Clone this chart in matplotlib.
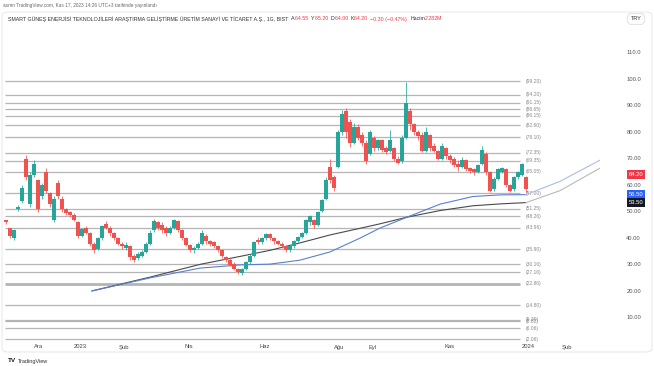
import numpy as np
import matplotlib
matplotlib.use("Agg")
import matplotlib.pyplot as plt
import matplotlib.transforms as mtransforms
from matplotlib.patches import FancyBboxPatch

plt.rcParams['font.family'] = ['Liberation Sans', 'DejaVu Sans']

# daily candles (one entry per bar)
opens = [47, 44, 40, 51, 54, 70, 53, 64, 62, 56, 65, 57, 47, 61, 55, 51, 50, 49, 46, 41,
         44, 42, 38, 36, 40, 45.5, 44, 42, 40, 38, 36.5, 37, 33.5, 32.5, 33.5, 35, 38, 43, 46, 45,
         44, 42, 44, 46.5, 43, 40, 37.5, 35.5, 36.5, 38, 41, 39, 38.5, 37, 35.5, 33, 32, 30.5, 28.5, 27,
         28.5, 31, 33.5, 39.5, 38.5, 40, 41.5, 40, 39, 38, 37, 35.5, 37, 39, 40.5, 42, 46, 47, 45, 50.5,
         55, 67, 63, 67, 80, 88, 84, 76, 82, 79, 76, 72, 78, 74, 77, 74, 73, 74, 70, 69,
         78, 88, 83, 80, 79, 73, 79, 75, 73, 70, 74, 71, 70, 68, 67, 69.5, 66.5, 66, 65, 68,
         72, 65, 58.5, 62.5, 65, 66, 60, 58.5, 63, 64, 63]
highs = [47, 44, 43.5, 52.5, 60, 71.5, 65, 69.5, 62.5, 61, 66.5, 57.5, 56, 62, 56, 51.5, 50.5, 49.5, 46.5, 44,
         44.5, 42.5, 38.5, 40.5, 45, 46.5, 44.5, 42.5, 40.5, 38.5, 38.5, 37.5, 34, 35, 35.5, 38.5, 43, 47.5, 46.5, 46,
         44.5, 44.5, 47.5, 47, 43.5, 40.5, 38, 37, 38.5, 43, 41.5, 39.5, 39, 37.5, 36, 33.5, 32.5, 31, 29, 29,
         31.5, 34, 39, 40.5, 40.5, 42, 42, 40.5, 39.5, 38.5, 37.5, 37.5, 39.5, 41, 42.5, 47.5, 49, 47.5, 50.5, 55,
         63, 70, 64, 81, 88.5, 89, 85, 83.5, 83, 80, 77, 81, 78.5, 77.5, 77.5, 75, 81, 74.5, 71, 79,
         99, 89, 83.5, 81, 80, 82, 79.5, 76, 73.5, 76, 74.5, 72, 70.5, 69.5, 70.5, 70, 67, 66.5, 68, 75,
         72.5, 65.5, 63, 66.5, 67, 66.5, 60.5, 63.5, 65.5, 68.5, 63.5]
lows = [45.5, 40, 39.5, 50.5, 53.5, 62, 52, 63, 50, 55, 57, 52, 46, 55, 50, 49, 48, 46.5, 40, 40.5,
        41.5, 37, 34.5, 35.5, 39.5, 43.5, 41, 39.5, 37.5, 36, 35.5, 32, 31, 32, 33, 34.5, 37.5, 42.5, 43, 42,
        41, 41.5, 43.5, 42.5, 39.5, 37, 35, 34.5, 36, 37.5, 38, 37, 36.5, 35, 32.5, 31, 29.5, 28, 26.5, 26.2,
        28, 30.5, 33, 38, 38, 39.5, 39.5, 38, 37.5, 36.5, 35, 35, 36.5, 38.5, 40, 41.5, 45, 44, 44.5, 50,
        54.5, 61, 58, 66.5, 79, 78, 74.5, 75.5, 77, 75, 68, 71.5, 73, 73.5, 72.5, 72, 72.5, 69, 68, 68.5,
        77.5, 81, 79, 77, 72.5, 72.5, 73, 72.5, 69.5, 69.5, 70, 68.5, 67, 65.5, 66.5, 65.5, 64.5, 64, 64.5, 67.5,
        64, 57.5, 58, 62, 64.5, 59.5, 57.5, 58, 62.5, 63.5, 57.5]
closes = [46, 41, 43, 52, 59, 63, 64, 68, 51, 60, 58, 53, 55, 56, 51, 49.5, 49, 47, 41, 43.5,
          42, 38, 35.5, 40, 44.5, 44, 42, 40, 38, 37, 37.5, 33, 32, 34, 35, 38, 42, 46.5, 44, 43,
          42, 44, 47, 43, 40, 37.5, 35.5, 36.5, 38, 42, 39, 38, 37, 35.5, 33.5, 32, 30, 28.5, 27.5, 28.5,
          31, 33.5, 38.5, 38.5, 40, 41.5, 40, 39, 38, 37, 35.5, 37, 39, 40.5, 42, 47, 48.5, 45, 50, 54.5,
          62, 62, 59, 80, 87, 80, 76, 82, 78, 76, 69, 80, 74, 77, 73.5, 72.5, 77, 70, 68.5, 78,
          91, 83, 80, 78.5, 73, 80, 74, 73, 70, 75, 71, 69.5, 67.5, 67, 69.5, 66, 65.5, 65, 67.5, 73.5,
          65, 58, 62.5, 66, 66.5, 60, 58, 63, 65, 68, 58.5]

# moving averages (bar index -> value), last points are the projection
ma_idx = [21.5, 36, 48.5, 58.5, 66, 73.5, 81, 88.5, 93.5, 100.25, 108.5, 116.75, 123.5, 130, 138.5, 148.5]
ma_black = [20.2, 25.4, 30.2, 33.2, 35.5, 38.3, 41.3, 43.8, 45.5, 48, 50.5, 52.3, 53.0, 53.5, 58, 66.5]
ma_blue = [20.2, 25.1, 28.8, 30.0, 30.3, 31.8, 34.9, 40.1, 43.9, 48, 52.9, 55.8, 56.4, 56.5, 61.5, 69.5]

levels = [99.20, 94.20, 91.15, 88.65, 86.15, 82.60, 78.10, 72.35, 69.35, 65.05, 57.00, 51.25,
          48.26, 43.96, 35.90, 30.16, 27.16, 22.86, 14.80, 9.30, 8.82, 6.06, 2.06]

price_ticks = [110, 100, 90, 80, 70, 60, 50, 40, 30, 20, 10]
price_labels = ['110.0', '100.0', '90.00', '80.00', '70.00', '60.00', '50.00', '40.00', '30.00', '20.00', '10.00']

month_pos = [8.25, 18.5, 29.5, 45.75, 64.75, 83.25, 91.75, 111, 130.5, 140.25]
month_labels = ['Ara', '2023', 'Şub', 'Nis', 'Haz', 'Ağu', 'Eyl', 'Kas', '2024', 'Şub']

last_price = 64.20
up_col = '#26a69a'
dn_col = '#ef5350'

W, H = 654, 366
fig = plt.figure(figsize=(W / 100, H / 100), dpi=100)
ax = fig.add_axes([0, (H - 342) / H, 600 / W, (342 - 27) / H])
ax.set_xlim(-1.5, 148.5)
ax.set_ylim(0.94, 119.7)
for s in ax.spines.values():
    s.set_visible(False)
ax.set_xticks([])
ax.set_yticks([])

# support / resistance levels
n = len(closes)
ax.hlines([l for l in levels if l != 22.86], -0.25, 128.4, color='#b4b4b4', lw=0.9, zorder=1)
ax.hlines([22.86], -0.25, 128.4, color='#b4b4b4', lw=2.0, zorder=1)
for l in levels:
    ax.text(130.0, l, '(%.2f)' % l, fontsize=3.6, color='#8a8a8a', va='center', ha='left', zorder=1)

# candles
idx = np.arange(n)
o = np.array(opens)
c = np.array(closes)
cols = [up_col if cc >= oo else dn_col for oo, cc in zip(o, c)]
ax.vlines(idx, lows, highs, colors=cols, lw=0.55, zorder=3)
bot = np.minimum(o, c)
hgt = np.maximum(np.abs(c - o), 0.3)
ax.bar(idx, hgt, bottom=bot, width=0.78, color=cols, lw=0, zorder=4)

# moving averages
cut = 14
ax.plot(ma_idx[:cut], ma_black[:cut], color='#4a4a4a', lw=0.8, zorder=2)
ax.plot(ma_idx[cut - 1:], ma_black[cut - 1:], color='#b9b9b9', lw=0.8, zorder=2)
ax.plot(ma_idx[:cut], ma_blue[:cut], color='#5b7fd0', lw=0.8, zorder=2)
ax.plot(ma_idx[cut - 1:], ma_blue[cut - 1:], color='#a9bde8', lw=0.8, zorder=2)

# price scale
tr = mtransforms.blended_transform_factory(ax.transAxes, ax.transData)
for v, lab in zip(price_ticks, price_labels):
    ax.text(641 / 600, v, lab, transform=tr, fontsize=4.2, color='#555555', ha='right', va='center', clip_on=False)
for v, lab, col in [(last_price, '64.20', '#f23645'), (ma_blue[cut - 1], '56.50', '#2962ff'),
                    (ma_black[cut - 1], '53.50', '#131722')]:
    ax.text(636 / 600, v, lab, transform=tr, fontsize=4.2, color='white', ha='center', va='center',
            clip_on=False, bbox=dict(boxstyle='square,pad=0.35', fc=col, ec='none'))

# time scale
trx = mtransforms.blended_transform_factory(ax.transData, ax.transAxes)
for p, lab in zip(month_pos, month_labels):
    ax.text(p, -5 / 315, lab, transform=trx, fontsize=4.2, color='#444444', ha='center', va='center', clip_on=False)

# frame
frame = FancyBboxPatch((2 / W, 1 - 352 / H), 650 / W, 340 / H, boxstyle='round,pad=0,rounding_size=0.01',
                       transform=fig.transFigure, fc='none', ec='#e0e3eb', lw=0.6)
fig.patches.append(frame)

fig.text(3 / W, 1 - 5 / H, 'asrnn TradingView.com, Kas 17, 2023 14:26 UTC+3 tarihinde yayınlandı',
         fontsize=3.4, color='#666666', va='center')

# header with mixed colours
pieces = [('SMART GÜNEŞ ENERJİSİ TEKNOLOJİLERİ ARAŞTIRMA GELİŞTİRME ÜRETİM SANAYİ VE TİCARET A.Ş., 1G, BIST  ', '#333333'),
          ('A', '#333333'), ('64.55  ', '#f23645'), ('Y', '#333333'), ('65.20  ', '#f23645'),
          ('D', '#333333'), ('64.00  ', '#f23645'), ('K', '#333333'), ('64.20  ', '#f23645'),
          ('−0.30 (−0.47%)  ', '#f23645'), ('Hacim', '#333333'), ('2.282M', '#f23645')]
r = fig.canvas.get_renderer()
x = 8 / W
for txt, col in pieces:
    t = fig.text(x, 1 - 19 / H, txt, fontsize=3.75, color=col, va='center', ha='left')
    bb = t.get_window_extent(renderer=r)
    x += bb.width / W

fig.text(636 / W, 1 - 19 / H, 'TRY', fontsize=4, color='#333333', va='center', ha='center',
         bbox=dict(boxstyle='round,pad=0.5', fc='white', ec='#d6d6d6', lw=0.5))

fig.text(8 / W, 1 - 361 / H, 'TV', fontsize=4.6, color='#131722', va='center', fontweight='bold')
fig.text(18 / W, 1 - 361 / H, 'TradingView', fontsize=4.0, color='#333333', va='center')

fig.savefig('out.png', dpi=100)
